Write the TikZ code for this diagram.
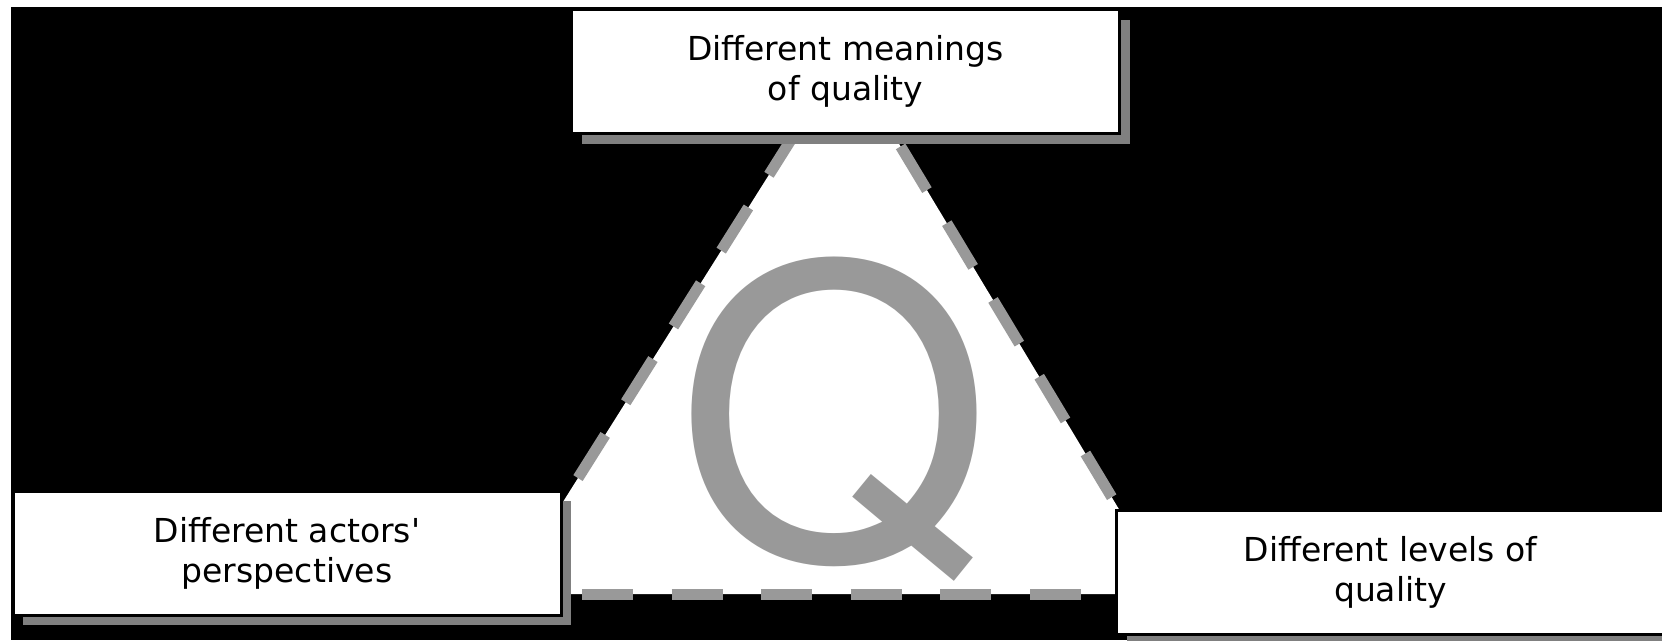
\documentclass[tikz,border=0pt]{standalone}
\usepackage{fontspec}
\newfontfamily\labelfont{DejaVu Sans}
\newfontfamily\bigqfont{TeX Gyre Heros}
\usetikzlibrary{shadows}
\definecolor{shadowgray}{HTML}{808080}
\definecolor{qgray}{HTML}{999999}

\begin{document}
\begin{tikzpicture}[x=1pt,y=-1pt,
  qbox/.style={draw=black, line width=3pt, fill=white, inner sep=0pt,
    minimum width=548pt, minimum height=124pt, align=center,
    font=\labelfont\fontsize{33}{40}\selectfont,
    drop shadow={shadow xshift=10pt, shadow yshift=-10pt, fill=shadowgray, opacity=1}},
  qedge/.style={qgray, line width=11pt, dash pattern=on 51pt off 38.6pt}]
  \useasboundingbox (0,0) rectangle (1662,640);
  % background
  \fill[white] (0,0) rectangle (1662,640);
  \fill[black] (11,7) rectangle (1662,640);
  % triangle
  \coordinate (apex) at (845,54);
  \coordinate (bl) at (505,594);
  \coordinate (br) at (1170,594);
  \fill[white] (apex) -- (bl) -- (br) -- cycle;
  \draw[qedge, dash phase=42.2pt] (bl) -- (apex);
  \draw[qedge, dash phase=66.2pt] (br) -- (apex);
  \draw[qedge, dash phase=12.6pt] (bl) -- (br);
  % big Q
  \node[anchor=base, inner sep=0pt, text=qgray,
    font=\bigqfont\fontsize{405}{405}\selectfont] (bigq) at (834,559) {Q};
  % boxes
  \node[qbox] (meanings) at (845.5,71.5) {Different meanings\\of quality};
  \node[qbox] (actors) at (287,553) {Different actors'\\perspectives};
  \node[qbox] (levels) at (1390.5,572.5) {Different levels of\\quality};
\end{tikzpicture}
\end{document}
